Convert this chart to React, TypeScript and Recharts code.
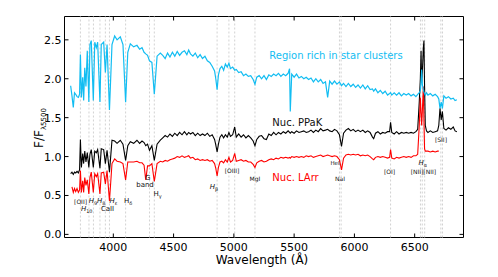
import { LineChart, Line, XAxis, YAxis, ReferenceLine, ReferenceArea, ReferenceDot, Customized } from "recharts"

// wavelength grid (Angstrom) shared by the three spectra
const wavelength = [
  3646, 3657, 3668, 3678, 3688, 3699, 3710, 3720, 3727, 3735, 3746, 3754, 3763, 3773, 3784, 3797, 3806, 3817,
  3834, 3846, 3859, 3870, 3889, 3900, 3920, 3934, 3948, 3968, 3989, 4011, 4031, 4058, 4080, 4102, 4120, 4141,
  4169, 4196, 4218, 4238, 4255, 4269, 4284, 4300, 4320, 4340, 4363, 4390,
  4410, 4430, 4450, 4470, 4490, 4510, 4530, 4550, 4570, 4590, 4610, 4625, 4640, 4660, 4680, 4700, 4720, 4740,
  4760, 4780, 4800, 4820, 4840, 4850, 4861, 4872, 4885, 4900, 4915, 4930, 4945, 4959, 4972, 4990, 5007, 5020,
  5040, 5060, 5080, 5100, 5120, 5140, 5160, 5175, 5190, 5210, 5230, 5250, 5270, 5290, 5310, 5330, 5350, 5370,
  5390, 5410, 5430, 5450, 5462, 5468, 5480, 5500, 5520, 5540, 5560, 5580, 5600, 5620, 5640, 5660, 5680, 5700,
  5720, 5740, 5760, 5778, 5795, 5815, 5835, 5855, 5876, 5893, 5910, 5930, 5950, 5970, 5990, 6010, 6030, 6050,
  6070, 6090, 6110, 6130, 6150, 6160, 6175, 6195, 6215, 6235, 6255, 6275, 6292, 6300, 6310, 6330, 6350, 6370,
  6390, 6410, 6430, 6450, 6470, 6490, 6510, 6525, 6538, 6547, 6553, 6558, 6564, 6572, 6577, 6582, 6588, 6598,
  6610, 6630, 6650, 6670, 6690, 6700, 6710, 6720, 6730, 6742, 6760, 6780, 6800, 6820, 6835, 6850,
]

// Region rich in star clusters (cyan)
const starClusters = [
  1.91, 1.78, 1.63, 1.82, 1.80, 1.77, 1.76, 1.80, 2.31, 1.76, 2.02, 1.72, 2.14, 1.90, 2.36, 1.70, 2.44, 2.49,
  1.72, 2.47, 2.40, 2.47, 1.70, 2.44, 2.47, 2.08, 2.44, 1.60, 2.44, 2.55, 2.50, 2.54, 2.44, 1.70, 2.34, 2.45,
  2.41, 2.43, 2.38, 2.40, 2.34, 2.32, 2.30, 2.23, 2.21, 1.80, 2.29, 2.33,
  2.30, 2.26, 2.33, 2.28, 2.34, 2.29, 2.35, 2.30, 2.34, 2.36, 2.31, 2.37, 2.32, 2.29, 2.33, 2.27, 2.31, 2.26,
  2.29, 2.23, 2.21, 2.16, 2.10, 2.00, 1.86, 2.05, 2.13, 2.16, 2.11, 2.19, 2.15, 2.20, 2.13, 2.15, 2.11, 2.12,
  2.08, 2.09, 2.04, 2.06, 2.03, 2.04, 1.99, 1.93, 2.02, 2.04, 2.00, 2.04, 1.99, 2.05, 2.03, 2.06, 2.04, 2.07,
  2.03, 2.06, 2.04, 2.07, 2.13, 1.58, 2.06, 2.02, 2.06, 2.01, 2.03, 2.00, 2.02, 1.99, 2.01, 1.96, 2.00, 1.96,
  1.99, 1.94, 1.96, 1.76, 1.97, 1.93, 1.97, 1.93, 1.96, 1.91, 1.94, 1.90, 1.94, 1.90, 1.93, 1.89, 1.92, 1.88,
  1.92, 1.87, 1.91, 1.86, 1.87, 1.84, 1.87, 1.82, 1.85, 1.81, 1.84, 1.79, 1.81, 1.82, 1.79, 1.82, 1.79, 1.82,
  1.78, 1.81, 1.79, 1.81, 1.78, 1.80, 1.77, 1.80, 1.82, 1.85, 1.95, 2.12, 1.92, 1.86, 1.83, 1.81, 1.79, 1.82,
  1.79, 1.81, 1.78, 1.80, 1.77, 1.74, 1.62, 1.70, 1.62, 1.78, 1.75, 1.77, 1.74, 1.75, 1.72, 1.73,
]

// Nuc. PPaK (black)
const nucPPaK = [
  0.78, 0.80, 0.77, 0.80, 0.79, 0.81, 0.79, 0.83, 1.22, 0.86, 1.04, 0.91, 1.07, 0.93, 1.05, 0.86, 1.03, 1.09,
  0.86, 1.07, 1.05, 1.09, 0.85, 1.10, 1.09, 0.91, 1.08, 0.80, 1.21, 1.20, 1.17, 1.21, 1.16, 0.95, 1.14, 1.19,
  1.17, 1.21, 1.17, 1.20, 1.18, 1.14, 1.16, 1.08, 1.14, 0.95, 1.16, 1.21,
  1.24, 1.27, 1.25, 1.29, 1.26, 1.30, 1.27, 1.31, 1.28, 1.32, 1.28, 1.31, 1.29, 1.31, 1.27, 1.30, 1.27, 1.29,
  1.27, 1.30, 1.26, 1.28, 1.22, 1.15, 1.06, 1.16, 1.25, 1.28, 1.24, 1.28, 1.25, 1.31, 1.26, 1.28, 1.38, 1.25,
  1.29, 1.25, 1.28, 1.24, 1.27, 1.24, 1.20, 1.14, 1.22, 1.26, 1.27, 1.23, 1.22, 1.29, 1.27, 1.31, 1.28, 1.31,
  1.29, 1.32, 1.30, 1.33, 1.31, 1.30, 1.32, 1.30, 1.33, 1.31, 1.32, 1.33, 1.31, 1.32, 1.34, 1.31, 1.34, 1.32,
  1.36, 1.33, 1.34, 1.35, 1.33, 1.32, 1.35, 1.33, 1.28, 1.13, 1.30, 1.34, 1.36, 1.33, 1.35, 1.32, 1.34, 1.32,
  1.34, 1.31, 1.33, 1.31, 1.25, 1.23, 1.30, 1.32, 1.29, 1.31, 1.30, 1.32, 1.32, 1.44, 1.31, 1.29, 1.32, 1.29,
  1.31, 1.30, 1.31, 1.30, 1.31, 1.30, 1.32, 1.35, 1.70, 2.00, 2.36, 1.95, 2.10, 2.40, 2.49, 1.90, 1.40, 1.33,
  1.31, 1.33, 1.31, 1.32, 1.33, 1.40, 1.62, 1.47, 1.58, 1.36, 1.34, 1.37, 1.35, 1.38, 1.33, 1.32,
]

// Nuc. LArr (red)
const nucLArr = [
  null, 0.61, 0.54, 0.59, 0.55, 0.59, 0.54, 0.57, 0.82, 0.54, 0.69, 0.54, 0.73, 0.63, 0.70, 0.52, 0.73, 0.80,
  0.54, 0.78, 0.74, 0.78, 0.52, 0.79, 0.80, 0.65, 0.82, 0.43, 0.91, 0.97, 0.94, 0.93, 0.91, 0.70, 0.93, 0.93,
  0.93, 0.94, 0.92, 0.92, 0.89, 0.70, 0.88, 0.88, 0.91, 0.68, 0.91, 0.94,
  0.93, 0.95, 0.94, 0.96, 0.97, 0.98, 1.00, 0.99, 1.01, 0.99, 1.00, 1.01, 0.98, 0.99, 0.96, 0.97, 0.95, 0.96,
  0.95, 0.96, 0.94, 0.95, 0.91, 0.85, 0.75, 0.86, 0.93, 0.94, 0.92, 0.96, 0.93, 0.99, 0.93, 0.95, 1.04, 0.94,
  0.95, 0.96, 0.94, 0.95, 0.93, 0.93, 0.90, 0.86, 0.92, 0.94, 0.95, 0.93, 0.94, 0.96, 0.97, 0.96, 0.98, 0.97,
  0.99, 0.98, 0.99, 0.98, 0.99, 0.98, 1.00, 0.99, 1.00, 0.99, 1.00, 0.99, 1.01, 1.00, 1.01, 0.99, 1.00, 1.01,
  1.02, 1.00, 1.01, 1.02, 1.01, 1.00, 1.01, 1.00, 0.96, 0.83, 0.98, 1.02, 1.03, 1.02, 1.03, 1.02, 1.03, 1.01,
  1.02, 1.01, 1.02, 1.00, 0.97, 0.96, 0.99, 1.00, 0.99, 1.00, 0.99, 0.98, 0.99, 1.09, 0.98, 0.97, 0.99, 0.98,
  0.99, 1.00, 0.99, 1.00, 0.99, 1.01, 1.01, 1.03, 1.40, 1.76, 1.55, 1.40, 1.60, 1.90, 1.45, 1.10, 1.07, 1.07,
  1.07, 1.06, 1.07, 1.06, 1.07, 1.07, null, null, null, null, null, null, null, null, null, null,
]

const xTicks = [4000, 4500, 5000, 5500, 6000, 6500]
const yTicks = [0, 0.5, 1, 1.5, 2, 2.5]

// marked spectral features (dashed verticals)
const featureLines = [3727, 3798, 3835, 3889, 3934, 3968, 4102, 4300, 4340, 4861, 4959, 5007, 5175, 5876, 5890, 6300, 6548, 6563, 6583, 6717, 6731]

const spectrum = wavelength.map((w, i) => ({ w, clusters: starClusters[i], ppak: nucPPaK[i], larr: nucLArr[i] }))

const FONT = "DejaVu Sans, sans-serif"
const CYAN = "#12bdf2"
const PLOT_TOP = 8.5
const PLOT_BOTTOM = 229.5

// label parts: [text, kind] where kind = "i" italic, "s" subscript, "" plain
type Part = [string, string]
const notes: { x: number; y: number; parts: Part[]; size: number; color?: string; anchor?: string }[] = [
  { x: 3728, y: 0.43, parts: [["[OII]", ""]], size: 6 },
  { x: 3779, y: 0.33, parts: [["H", "i"], ["10", "s"]], size: 7 },
  { x: 3865, y: 0.43, parts: [["H", "i"], ["9", "s"], ["H", "i"], ["8", "s"]], size: 7 },
  { x: 3952, y: 0.33, parts: [["CaII", ""]], size: 7 },
  { x: 4002, y: 0.43, parts: [["H", "i"], ["ε", "s"]], size: 7 },
  { x: 4122, y: 0.43, parts: [["H", ""], ["δ", "s"]], size: 7 },
  { x: 4285, y: 0.73, parts: [["G", ""]], size: 7 },
  { x: 4263, y: 0.63, parts: [["band", ""]], size: 7 },
  { x: 4367, y: 0.52, parts: [["H", ""], ["γ", "s"]], size: 7 },
  { x: 4835, y: 0.615, parts: [["H", "i"], ["β", "s"]], size: 7 },
  { x: 4985, y: 0.83, parts: [["[OIII]", ""]], size: 6 },
  { x: 5175, y: 0.72, parts: [["MgI", ""]], size: 6 },
  { x: 5839, y: 0.915, parts: [["HeI", ""]], size: 5.5 },
  { x: 5881, y: 0.72, parts: [["NaI", ""]], size: 6 },
  { x: 6291, y: 0.82, parts: [["[OI]", ""]], size: 6 },
  { x: 6567, y: 0.92, parts: [["H", "i"], ["α", "s"]], size: 7 },
  { x: 6572, y: 0.82, parts: [["[NII][NII]", ""]], size: 6 },
  { x: 6718, y: 1.23, parts: [["[SII]", ""]], size: 6 },
  { x: 5847, y: 2.31, parts: [["Region rich in star clusters", ""]], size: 10, color: CYAN },
  { x: 5319, y: 1.44, parts: [["Nuc. PPaK", ""]], size: 10, anchor: "start" },
  { x: 5319, y: 0.735, parts: [["Nuc. LArr", ""]], size: 10, color: "#ff0000", anchor: "start" },
]

function NoteText({ cx, cy, note }: any) {
  const s = note.size
  let shifted = false
  return (
    <text x={cx} y={cy} textAnchor={note.anchor || "middle"} dominantBaseline="central" fontFamily={FONT} fontSize={s} fill={note.color || "#111"}>
      {note.parts.map(([t, k]: Part, i: number) => {
        let dy = 0
        if (k === "s" && !shifted) { dy = s * 0.3; shifted = true }
        if (k !== "s" && shifted) { dy = -s * 0.3; shifted = false }
        return (
          <tspan key={i} dy={dy} fontSize={k === "s" ? s * 0.7 : s} fontStyle={k === "i" ? "italic" : "normal"}>{t}</tspan>
        )
      })}
    </text>
  )
}

function XTick({ x, payload }: any) {
  return (
    <g>
      <line x1={x} x2={x} y1={PLOT_BOTTOM} y2={PLOT_BOTTOM - 4} stroke="#000" />
      <line x1={x} x2={x} y1={PLOT_TOP} y2={PLOT_TOP + 4} stroke="#000" />
      <text x={x} y={243} textAnchor="middle" fontSize={11} fontFamily={FONT} fill="#000">{payload.value}</text>
    </g>
  )
}

function YTick({ y, payload }: any) {
  return (
    <g>
      <line x1={56.5} x2={60.5} y1={y} y2={y} stroke="#000" />
      <line x1={455.5} x2={451.5} y1={y} y2={y} stroke="#000" />
      <text x={53.5} y={y} dy={4} textAnchor="end" fontSize={11} fontFamily={FONT} fill="#000">{payload.value.toFixed(1)}</text>
    </g>
  )
}

function AxisTitles() {
  return (
    <g fontFamily={FONT} fill="#000">
      <text x={254} y={256} textAnchor="middle" fontSize={12}>Wavelength (Å)</text>
      <text x={35} y={120} textAnchor="middle" fontSize={12} transform="rotate(-90 35 120)">
        F/F<tspan fontSize={7} dy={3}>λ5500</tspan>
      </text>
    </g>
  )
}

export default function App() {
  return (
    <div style={{ fontFamily: FONT }}>
      <LineChart width={490} height={269} data={spectrum} margin={{ top: 8.5, right: 34.5, left: 0.5, bottom: 0 }}>
        <XAxis dataKey="w" type="number" domain={[3595, 6905]} ticks={xTicks} allowDataOverflow
          axisLine={false} tickLine={false} tick={<XTick />} height={39.5} />
        <YAxis type="number" domain={[-0.04, 2.8]} ticks={yTicks} allowDataOverflow
          axisLine={false} tickLine={false} tick={<YTick />} width={56} />
        {featureLines.map((w) => (
          <ReferenceLine key={w} x={w} stroke="#d2d2d2" strokeDasharray="2 2" strokeWidth={1} />
        ))}
        <Line type="linear" dataKey="ppak" stroke="#000000" strokeWidth={1.1} dot={false} isAnimationActive={false} />
        <Line type="linear" dataKey="larr" stroke="#ff0000" strokeWidth={1.1} dot={false} isAnimationActive={false} />
        <Line type="linear" dataKey="clusters" stroke={CYAN} strokeWidth={1.2} dot={false} isAnimationActive={false} />
        <ReferenceArea x1={3595} x2={6905} y1={-0.04} y2={2.8} fill="none" stroke="#000" strokeWidth={1} />
        {notes.map((n, i) => (
          <ReferenceDot key={i} x={n.x} y={n.y} r={0} shape={(p: any) => <NoteText cx={p.cx} cy={p.cy} note={n} />} />
        ))}
        <Customized component={<AxisTitles />} />
      </LineChart>
    </div>
  )
}
